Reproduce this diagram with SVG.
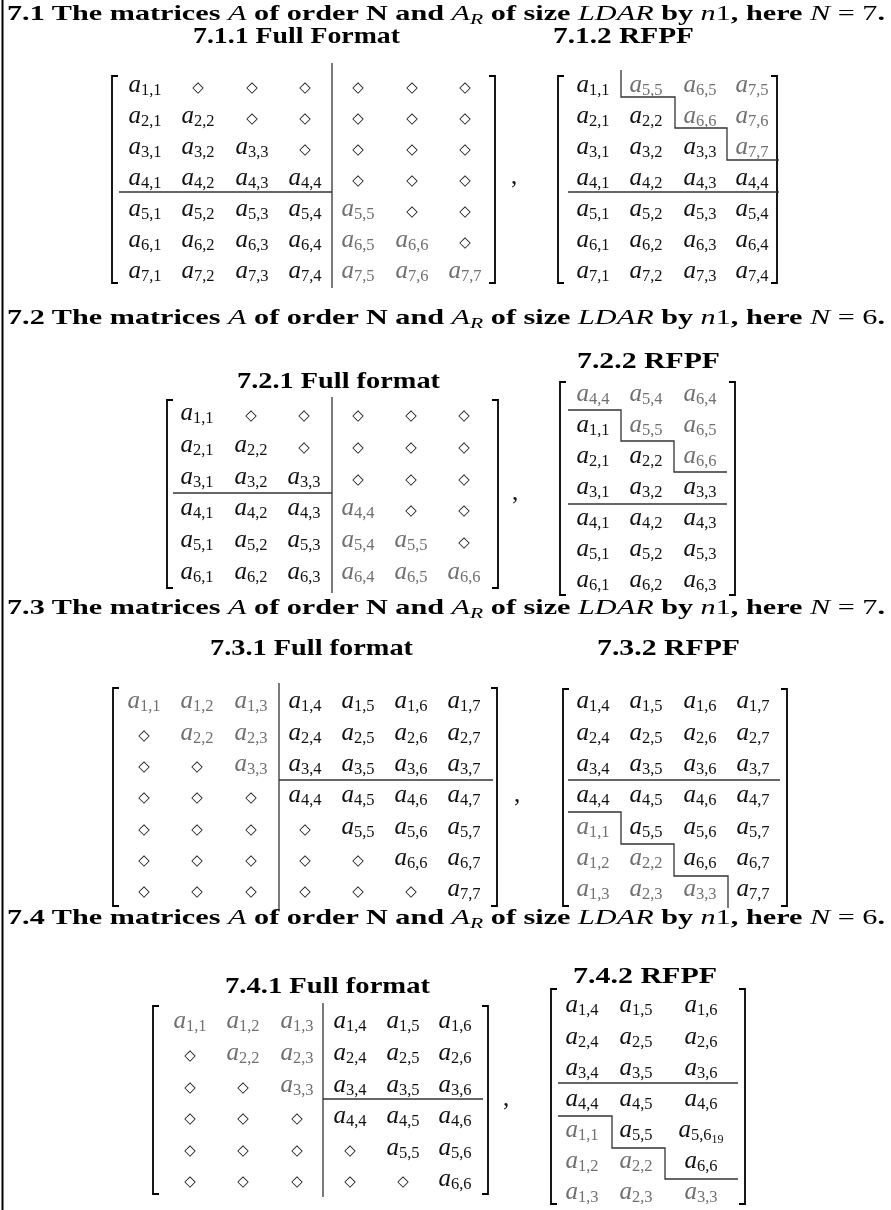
<svg xmlns="http://www.w3.org/2000/svg" width="891" height="1210" viewBox="0 0 891 1210">
<defs>
  <filter id="mono" filterUnits="userSpaceOnUse" x="0" y="0" width="891" height="1210">
    <feColorMatrix type="saturate" values="0"/>
  </filter>
</defs>
<style>
  .t { font-family: "Liberation Serif", serif; font-weight: bold; font-size: 21px; fill: #000; }
  .st { font-family: "Liberation Serif", serif; font-weight: bold; font-size: 23px; fill: #000; }
  .m { font-style: italic; font-weight: normal; }
  .r { font-weight: normal; }
  .sub { font-size: 15px; }
  .e { font-family: "Liberation Serif", serif; font-style: italic; font-size: 25px; fill: #111; text-anchor: middle; }
  .g { fill: #707070; }
  .s { font-style: normal; font-size: 16.5px; }
  .ss { font-style: normal; font-size: 12px; }
  .d { font-family: "DejaVu Sans", sans-serif; font-size: 15px; fill: #111; text-anchor: middle; }
  .c { font-family: "Liberation Serif", serif; font-size: 25px; fill: #111; }
  .br { fill: none; stroke: #000; stroke-width: 1.8; }
  .sep { fill: none; stroke: #333; stroke-width: 1.3; }
  .edge { fill: none; stroke: #000; stroke-width: 2; }
</style>
<rect width="891" height="1210" fill="#fff"/>
<g filter="url(#mono)">

<!-- left margin rule -->
<line class="edge" x1="2.5" y1="0" x2="2.5" y2="1210"/>

<!-- ===================== 7.1 ===================== -->
<g id="sec71">
  <text class="t" x="7" y="20" textLength="878" lengthAdjust="spacingAndGlyphs">7.1 The matrices <tspan class="m">A</tspan> of order N and <tspan class="m">A</tspan><tspan class="m sub" dy="4">R</tspan><tspan dy="-4"> of size </tspan><tspan class="m">LDAR</tspan> by <tspan class="m">n</tspan><tspan class="r">1</tspan>, here <tspan class="m">N</tspan><tspan class="r"> = 7</tspan>.</text>
  <text class="st" x="193" y="43" textLength="207" lengthAdjust="spacingAndGlyphs">7.1.1 Full Format</text>
  <text class="st" x="553" y="43" textLength="141" lengthAdjust="spacingAndGlyphs">7.1.2 RFPF</text>
</g>

<g id="m711">
  <path class="br" d="M118,76 H112 V283 H118 M489,76 H495 V283 H489"/>
  <line class="sep" x1="332" y1="63" x2="332" y2="288"/>
  <line class="sep" x1="119" y1="192" x2="332" y2="192"/>
  <!-- row 1 -->
  <text class="e" x="145" y="92">a<tspan class="s" dy="3">1,1</tspan></text>
  <text class="d" x="198" y="92">◇</text><text class="d" x="252" y="92">◇</text><text class="d" x="305" y="92">◇</text>
  <text class="d" x="358" y="92">◇</text><text class="d" x="412" y="92">◇</text><text class="d" x="465" y="92">◇</text>
  <!-- row 2 -->
  <text class="e" x="145" y="123">a<tspan class="s" dy="3">2,1</tspan></text>
  <text class="e" x="198" y="123">a<tspan class="s" dy="3">2,2</tspan></text>
  <text class="d" x="252" y="123">◇</text><text class="d" x="305" y="123">◇</text>
  <text class="d" x="358" y="123">◇</text><text class="d" x="412" y="123">◇</text><text class="d" x="465" y="123">◇</text>
  <!-- row 3 -->
  <text class="e" x="145" y="154">a<tspan class="s" dy="3">3,1</tspan></text>
  <text class="e" x="198" y="154">a<tspan class="s" dy="3">3,2</tspan></text>
  <text class="e" x="252" y="154">a<tspan class="s" dy="3">3,3</tspan></text>
  <text class="d" x="305" y="154">◇</text>
  <text class="d" x="358" y="154">◇</text><text class="d" x="412" y="154">◇</text><text class="d" x="465" y="154">◇</text>
  <!-- row 4 -->
  <text class="e" x="145" y="185">a<tspan class="s" dy="3">4,1</tspan></text>
  <text class="e" x="198" y="185">a<tspan class="s" dy="3">4,2</tspan></text>
  <text class="e" x="252" y="185">a<tspan class="s" dy="3">4,3</tspan></text>
  <text class="e" x="305" y="185">a<tspan class="s" dy="3">4,4</tspan></text>
  <text class="d" x="358" y="185">◇</text><text class="d" x="412" y="185">◇</text><text class="d" x="465" y="185">◇</text>
  <!-- row 5 -->
  <text class="e" x="145" y="216">a<tspan class="s" dy="3">5,1</tspan></text>
  <text class="e" x="198" y="216">a<tspan class="s" dy="3">5,2</tspan></text>
  <text class="e" x="252" y="216">a<tspan class="s" dy="3">5,3</tspan></text>
  <text class="e" x="305" y="216">a<tspan class="s" dy="3">5,4</tspan></text>
  <text class="e g" x="358" y="216">a<tspan class="s" dy="3">5,5</tspan></text>
  <text class="d" x="412" y="216">◇</text><text class="d" x="465" y="216">◇</text>
  <!-- row 6 -->
  <text class="e" x="145" y="247">a<tspan class="s" dy="3">6,1</tspan></text>
  <text class="e" x="198" y="247">a<tspan class="s" dy="3">6,2</tspan></text>
  <text class="e" x="252" y="247">a<tspan class="s" dy="3">6,3</tspan></text>
  <text class="e" x="305" y="247">a<tspan class="s" dy="3">6,4</tspan></text>
  <text class="e g" x="358" y="247">a<tspan class="s" dy="3">6,5</tspan></text>
  <text class="e g" x="412" y="247">a<tspan class="s" dy="3">6,6</tspan></text>
  <text class="d" x="465" y="247">◇</text>
  <!-- row 7 -->
  <text class="e" x="145" y="278">a<tspan class="s" dy="3">7,1</tspan></text>
  <text class="e" x="198" y="278">a<tspan class="s" dy="3">7,2</tspan></text>
  <text class="e" x="252" y="278">a<tspan class="s" dy="3">7,3</tspan></text>
  <text class="e" x="305" y="278">a<tspan class="s" dy="3">7,4</tspan></text>
  <text class="e g" x="358" y="278">a<tspan class="s" dy="3">7,5</tspan></text>
  <text class="e g" x="412" y="278">a<tspan class="s" dy="3">7,6</tspan></text>
  <text class="e g" x="465" y="278">a<tspan class="s" dy="3">7,7</tspan></text>
  <text class="c" x="511" y="184">,</text>
</g>

<g id="m712">
  <path class="br" d="M564,76 H558 V283 H564 M771,76 H777 V283 H771"/>
  <path class="sep" d="M621,70 V97 H675 V128 H727 V160 H779"/>
  <line class="sep" x1="568" y1="192" x2="779" y2="192"/>
  <text class="e" x="593" y="92">a<tspan class="s" dy="3">1,1</tspan></text>
  <text class="e g" x="646" y="92">a<tspan class="s" dy="3">5,5</tspan></text>
  <text class="e g" x="700" y="92">a<tspan class="s" dy="3">6,5</tspan></text>
  <text class="e g" x="752" y="92">a<tspan class="s" dy="3">7,5</tspan></text>
  <text class="e" x="593" y="123">a<tspan class="s" dy="3">2,1</tspan></text>
  <text class="e" x="646" y="123">a<tspan class="s" dy="3">2,2</tspan></text>
  <text class="e g" x="700" y="123">a<tspan class="s" dy="3">6,6</tspan></text>
  <text class="e g" x="752" y="123">a<tspan class="s" dy="3">7,6</tspan></text>
  <text class="e" x="593" y="154">a<tspan class="s" dy="3">3,1</tspan></text>
  <text class="e" x="646" y="154">a<tspan class="s" dy="3">3,2</tspan></text>
  <text class="e" x="700" y="154">a<tspan class="s" dy="3">3,3</tspan></text>
  <text class="e g" x="752" y="154">a<tspan class="s" dy="3">7,7</tspan></text>
  <text class="e" x="593" y="185">a<tspan class="s" dy="3">4,1</tspan></text>
  <text class="e" x="646" y="185">a<tspan class="s" dy="3">4,2</tspan></text>
  <text class="e" x="700" y="185">a<tspan class="s" dy="3">4,3</tspan></text>
  <text class="e" x="752" y="185">a<tspan class="s" dy="3">4,4</tspan></text>
  <text class="e" x="593" y="216">a<tspan class="s" dy="3">5,1</tspan></text>
  <text class="e" x="646" y="216">a<tspan class="s" dy="3">5,2</tspan></text>
  <text class="e" x="700" y="216">a<tspan class="s" dy="3">5,3</tspan></text>
  <text class="e" x="752" y="216">a<tspan class="s" dy="3">5,4</tspan></text>
  <text class="e" x="593" y="247">a<tspan class="s" dy="3">6,1</tspan></text>
  <text class="e" x="646" y="247">a<tspan class="s" dy="3">6,2</tspan></text>
  <text class="e" x="700" y="247">a<tspan class="s" dy="3">6,3</tspan></text>
  <text class="e" x="752" y="247">a<tspan class="s" dy="3">6,4</tspan></text>
  <text class="e" x="593" y="278">a<tspan class="s" dy="3">7,1</tspan></text>
  <text class="e" x="646" y="278">a<tspan class="s" dy="3">7,2</tspan></text>
  <text class="e" x="700" y="278">a<tspan class="s" dy="3">7,3</tspan></text>
  <text class="e" x="752" y="278">a<tspan class="s" dy="3">7,4</tspan></text>
</g>

<!-- ===================== 7.2 ===================== -->
<g id="sec72">
  <text class="t" x="7" y="324" textLength="878" lengthAdjust="spacingAndGlyphs">7.2 The matrices <tspan class="m">A</tspan> of order N and <tspan class="m">A</tspan><tspan class="m sub" dy="4">R</tspan><tspan dy="-4"> of size </tspan><tspan class="m">LDAR</tspan> by <tspan class="m">n</tspan><tspan class="r">1</tspan>, here <tspan class="m">N</tspan><tspan class="r"> = 6</tspan>.</text>
  <text class="st" x="237" y="388" textLength="203" lengthAdjust="spacingAndGlyphs">7.2.1 Full format</text>
  <text class="st" x="577" y="368" textLength="143" lengthAdjust="spacingAndGlyphs">7.2.2 RFPF</text>
</g>

<g id="m721">
  <path class="br" d="M173,400 H167 V588 H173 M492,400 H498 V588 H492"/>
  <line class="sep" x1="332" y1="397" x2="332" y2="593"/>
  <line class="sep" x1="173" y1="493" x2="332" y2="493"/>
  <text class="e" x="197" y="420">a<tspan class="s" dy="3">1,1</tspan></text>
  <text class="d" x="251" y="420">◇</text><text class="d" x="304" y="420">◇</text>
  <text class="d" x="358" y="420">◇</text><text class="d" x="411" y="420">◇</text><text class="d" x="464" y="420">◇</text>
  <text class="e" x="197" y="452">a<tspan class="s" dy="3">2,1</tspan></text>
  <text class="e" x="251" y="452">a<tspan class="s" dy="3">2,2</tspan></text>
  <text class="d" x="304" y="452">◇</text>
  <text class="d" x="358" y="452">◇</text><text class="d" x="411" y="452">◇</text><text class="d" x="464" y="452">◇</text>
  <text class="e" x="197" y="484">a<tspan class="s" dy="3">3,1</tspan></text>
  <text class="e" x="251" y="484">a<tspan class="s" dy="3">3,2</tspan></text>
  <text class="e" x="304" y="484">a<tspan class="s" dy="3">3,3</tspan></text>
  <text class="d" x="358" y="484">◇</text><text class="d" x="411" y="484">◇</text><text class="d" x="464" y="484">◇</text>
  <text class="e" x="197" y="515">a<tspan class="s" dy="3">4,1</tspan></text>
  <text class="e" x="251" y="515">a<tspan class="s" dy="3">4,2</tspan></text>
  <text class="e" x="304" y="515">a<tspan class="s" dy="3">4,3</tspan></text>
  <text class="e g" x="358" y="515">a<tspan class="s" dy="3">4,4</tspan></text>
  <text class="d" x="411" y="515">◇</text><text class="d" x="464" y="515">◇</text>
  <text class="e" x="197" y="547">a<tspan class="s" dy="3">5,1</tspan></text>
  <text class="e" x="251" y="547">a<tspan class="s" dy="3">5,2</tspan></text>
  <text class="e" x="304" y="547">a<tspan class="s" dy="3">5,3</tspan></text>
  <text class="e g" x="358" y="547">a<tspan class="s" dy="3">5,4</tspan></text>
  <text class="e g" x="411" y="547">a<tspan class="s" dy="3">5,5</tspan></text>
  <text class="d" x="464" y="547">◇</text>
  <text class="e" x="197" y="579">a<tspan class="s" dy="3">6,1</tspan></text>
  <text class="e" x="251" y="579">a<tspan class="s" dy="3">6,2</tspan></text>
  <text class="e" x="304" y="579">a<tspan class="s" dy="3">6,3</tspan></text>
  <text class="e g" x="358" y="579">a<tspan class="s" dy="3">6,4</tspan></text>
  <text class="e g" x="411" y="579">a<tspan class="s" dy="3">6,5</tspan></text>
  <text class="e g" x="464" y="579">a<tspan class="s" dy="3">6,6</tspan></text>
  <text class="c" x="512" y="500">,</text>
</g>

<g id="m722">
  <path class="br" d="M566,382 H560 V595 H566 M729,382 H735 V595 H729"/>
  <path class="sep" d="M568,410 H621 V441 H674 V472 H727"/>
  <line class="sep" x1="568" y1="504" x2="727" y2="504"/>
  <text class="e g" x="593" y="401">a<tspan class="s" dy="3">4,4</tspan></text>
  <text class="e g" x="646" y="401">a<tspan class="s" dy="3">5,4</tspan></text>
  <text class="e g" x="700" y="401">a<tspan class="s" dy="3">6,4</tspan></text>
  <text class="e" x="593" y="432">a<tspan class="s" dy="3">1,1</tspan></text>
  <text class="e g" x="646" y="432">a<tspan class="s" dy="3">5,5</tspan></text>
  <text class="e g" x="700" y="432">a<tspan class="s" dy="3">6,5</tspan></text>
  <text class="e" x="593" y="463">a<tspan class="s" dy="3">2,1</tspan></text>
  <text class="e" x="646" y="463">a<tspan class="s" dy="3">2,2</tspan></text>
  <text class="e g" x="700" y="463">a<tspan class="s" dy="3">6,6</tspan></text>
  <text class="e" x="593" y="494">a<tspan class="s" dy="3">3,1</tspan></text>
  <text class="e" x="646" y="494">a<tspan class="s" dy="3">3,2</tspan></text>
  <text class="e" x="700" y="494">a<tspan class="s" dy="3">3,3</tspan></text>
  <text class="e" x="593" y="525">a<tspan class="s" dy="3">4,1</tspan></text>
  <text class="e" x="646" y="525">a<tspan class="s" dy="3">4,2</tspan></text>
  <text class="e" x="700" y="525">a<tspan class="s" dy="3">4,3</tspan></text>
  <text class="e" x="593" y="556">a<tspan class="s" dy="3">5,1</tspan></text>
  <text class="e" x="646" y="556">a<tspan class="s" dy="3">5,2</tspan></text>
  <text class="e" x="700" y="556">a<tspan class="s" dy="3">5,3</tspan></text>
  <text class="e" x="593" y="587">a<tspan class="s" dy="3">6,1</tspan></text>
  <text class="e" x="646" y="587">a<tspan class="s" dy="3">6,2</tspan></text>
  <text class="e" x="700" y="587">a<tspan class="s" dy="3">6,3</tspan></text>
</g>

<!-- ===================== 7.3 ===================== -->
<g id="sec73">
  <text class="t" x="7" y="614" textLength="878" lengthAdjust="spacingAndGlyphs">7.3 The matrices <tspan class="m">A</tspan> of order N and <tspan class="m">A</tspan><tspan class="m sub" dy="4">R</tspan><tspan dy="-4"> of size </tspan><tspan class="m">LDAR</tspan> by <tspan class="m">n</tspan><tspan class="r">1</tspan>, here <tspan class="m">N</tspan><tspan class="r"> = 7</tspan>.</text>
  <text class="st" x="210" y="655" textLength="203" lengthAdjust="spacingAndGlyphs">7.3.1 Full format</text>
  <text class="st" x="597" y="655" textLength="143" lengthAdjust="spacingAndGlyphs">7.3.2 RFPF</text>
</g>

<g id="m731">
  <path class="br" d="M119,688 H113 V906 H119 M491,688 H497 V906 H491"/>
  <line class="sep" x1="279" y1="683" x2="279" y2="910"/>
  <line class="sep" x1="279" y1="780" x2="493" y2="780"/>
  <text class="e g" x="144" y="708">a<tspan class="s" dy="3">1,1</tspan></text>
  <text class="e g" x="197" y="708">a<tspan class="s" dy="3">1,2</tspan></text>
  <text class="e g" x="251" y="708">a<tspan class="s" dy="3">1,3</tspan></text>
  <text class="e" x="305" y="708">a<tspan class="s" dy="3">1,4</tspan></text>
  <text class="e" x="358" y="708">a<tspan class="s" dy="3">1,5</tspan></text>
  <text class="e" x="411" y="708">a<tspan class="s" dy="3">1,6</tspan></text>
  <text class="e" x="464" y="708">a<tspan class="s" dy="3">1,7</tspan></text>
  <text class="d" x="144" y="740">◇</text>
  <text class="e g" x="197" y="740">a<tspan class="s" dy="3">2,2</tspan></text>
  <text class="e g" x="251" y="740">a<tspan class="s" dy="3">2,3</tspan></text>
  <text class="e" x="305" y="740">a<tspan class="s" dy="3">2,4</tspan></text>
  <text class="e" x="358" y="740">a<tspan class="s" dy="3">2,5</tspan></text>
  <text class="e" x="411" y="740">a<tspan class="s" dy="3">2,6</tspan></text>
  <text class="e" x="464" y="740">a<tspan class="s" dy="3">2,7</tspan></text>
  <text class="d" x="144" y="771">◇</text><text class="d" x="197" y="771">◇</text>
  <text class="e g" x="251" y="771">a<tspan class="s" dy="3">3,3</tspan></text>
  <text class="e" x="305" y="771">a<tspan class="s" dy="3">3,4</tspan></text>
  <text class="e" x="358" y="771">a<tspan class="s" dy="3">3,5</tspan></text>
  <text class="e" x="411" y="771">a<tspan class="s" dy="3">3,6</tspan></text>
  <text class="e" x="464" y="771">a<tspan class="s" dy="3">3,7</tspan></text>
  <text class="d" x="144" y="802">◇</text><text class="d" x="197" y="802">◇</text><text class="d" x="251" y="802">◇</text>
  <text class="e" x="305" y="802">a<tspan class="s" dy="3">4,4</tspan></text>
  <text class="e" x="358" y="802">a<tspan class="s" dy="3">4,5</tspan></text>
  <text class="e" x="411" y="802">a<tspan class="s" dy="3">4,6</tspan></text>
  <text class="e" x="464" y="802">a<tspan class="s" dy="3">4,7</tspan></text>
  <text class="d" x="144" y="834">◇</text><text class="d" x="197" y="834">◇</text><text class="d" x="251" y="834">◇</text><text class="d" x="305" y="834">◇</text>
  <text class="e" x="358" y="834">a<tspan class="s" dy="3">5,5</tspan></text>
  <text class="e" x="411" y="834">a<tspan class="s" dy="3">5,6</tspan></text>
  <text class="e" x="464" y="834">a<tspan class="s" dy="3">5,7</tspan></text>
  <text class="d" x="144" y="865">◇</text><text class="d" x="197" y="865">◇</text><text class="d" x="251" y="865">◇</text><text class="d" x="305" y="865">◇</text><text class="d" x="358" y="865">◇</text>
  <text class="e" x="411" y="865">a<tspan class="s" dy="3">6,6</tspan></text>
  <text class="e" x="464" y="865">a<tspan class="s" dy="3">6,7</tspan></text>
  <text class="d" x="144" y="896">◇</text><text class="d" x="197" y="896">◇</text><text class="d" x="251" y="896">◇</text><text class="d" x="305" y="896">◇</text><text class="d" x="358" y="896">◇</text><text class="d" x="411" y="896">◇</text>
  <text class="e" x="464" y="896">a<tspan class="s" dy="3">7,7</tspan></text>
  <text class="c" x="514" y="802">,</text>
</g>

<g id="m732">
  <path class="br" d="M569,689 H563 V906 H569 M781,689 H787 V906 H781"/>
  <line class="sep" x1="568" y1="780" x2="780" y2="780"/>
  <path class="sep" d="M568,812 H621 V844 H674 V876 H728 V908"/>
  <text class="e" x="593" y="708">a<tspan class="s" dy="3">1,4</tspan></text>
  <text class="e" x="646" y="708">a<tspan class="s" dy="3">1,5</tspan></text>
  <text class="e" x="700" y="708">a<tspan class="s" dy="3">1,6</tspan></text>
  <text class="e" x="753" y="708">a<tspan class="s" dy="3">1,7</tspan></text>
  <text class="e" x="593" y="740">a<tspan class="s" dy="3">2,4</tspan></text>
  <text class="e" x="646" y="740">a<tspan class="s" dy="3">2,5</tspan></text>
  <text class="e" x="700" y="740">a<tspan class="s" dy="3">2,6</tspan></text>
  <text class="e" x="753" y="740">a<tspan class="s" dy="3">2,7</tspan></text>
  <text class="e" x="593" y="771">a<tspan class="s" dy="3">3,4</tspan></text>
  <text class="e" x="646" y="771">a<tspan class="s" dy="3">3,5</tspan></text>
  <text class="e" x="700" y="771">a<tspan class="s" dy="3">3,6</tspan></text>
  <text class="e" x="753" y="771">a<tspan class="s" dy="3">3,7</tspan></text>
  <text class="e" x="593" y="802">a<tspan class="s" dy="3">4,4</tspan></text>
  <text class="e" x="646" y="802">a<tspan class="s" dy="3">4,5</tspan></text>
  <text class="e" x="700" y="802">a<tspan class="s" dy="3">4,6</tspan></text>
  <text class="e" x="753" y="802">a<tspan class="s" dy="3">4,7</tspan></text>
  <text class="e g" x="593" y="834">a<tspan class="s" dy="3">1,1</tspan></text>
  <text class="e" x="646" y="834">a<tspan class="s" dy="3">5,5</tspan></text>
  <text class="e" x="700" y="834">a<tspan class="s" dy="3">5,6</tspan></text>
  <text class="e" x="753" y="834">a<tspan class="s" dy="3">5,7</tspan></text>
  <text class="e g" x="593" y="865">a<tspan class="s" dy="3">1,2</tspan></text>
  <text class="e g" x="646" y="865">a<tspan class="s" dy="3">2,2</tspan></text>
  <text class="e" x="700" y="865">a<tspan class="s" dy="3">6,6</tspan></text>
  <text class="e" x="753" y="865">a<tspan class="s" dy="3">6,7</tspan></text>
  <text class="e g" x="593" y="896">a<tspan class="s" dy="3">1,3</tspan></text>
  <text class="e g" x="646" y="896">a<tspan class="s" dy="3">2,3</tspan></text>
  <text class="e g" x="700" y="896">a<tspan class="s" dy="3">3,3</tspan></text>
  <text class="e" x="753" y="896">a<tspan class="s" dy="3">7,7</tspan></text>
</g>

<!-- ===================== 7.4 ===================== -->
<g id="sec74">
  <text class="t" x="7" y="924" textLength="878" lengthAdjust="spacingAndGlyphs">7.4 The matrices <tspan class="m">A</tspan> of order N and <tspan class="m">A</tspan><tspan class="m sub" dy="4">R</tspan><tspan dy="-4"> of size </tspan><tspan class="m">LDAR</tspan> by <tspan class="m">n</tspan><tspan class="r">1</tspan>, here <tspan class="m">N</tspan><tspan class="r"> = 6</tspan>.</text>
  <text class="st" x="225" y="993" textLength="205" lengthAdjust="spacingAndGlyphs">7.4.1 Full format</text>
  <text class="st" x="573" y="983" textLength="144" lengthAdjust="spacingAndGlyphs">7.4.2 RFPF</text>
</g>

<g id="m741">
  <path class="br" d="M159,1006 H153 V1194 H159 M482,1006 H488 V1194 H482"/>
  <line class="sep" x1="323" y1="1003" x2="323" y2="1197"/>
  <line class="sep" x1="323" y1="1099" x2="483" y2="1099"/>
  <text class="e g" x="190" y="1028">a<tspan class="s" dy="3">1,1</tspan></text>
  <text class="e g" x="243" y="1028">a<tspan class="s" dy="3">1,2</tspan></text>
  <text class="e g" x="297" y="1028">a<tspan class="s" dy="3">1,3</tspan></text>
  <text class="e" x="350" y="1028">a<tspan class="s" dy="3">1,4</tspan></text>
  <text class="e" x="403" y="1028">a<tspan class="s" dy="3">1,5</tspan></text>
  <text class="e" x="455" y="1028">a<tspan class="s" dy="3">1,6</tspan></text>
  <text class="d" x="190" y="1060">◇</text>
  <text class="e g" x="243" y="1060">a<tspan class="s" dy="3">2,2</tspan></text>
  <text class="e g" x="297" y="1060">a<tspan class="s" dy="3">2,3</tspan></text>
  <text class="e" x="350" y="1060">a<tspan class="s" dy="3">2,4</tspan></text>
  <text class="e" x="403" y="1060">a<tspan class="s" dy="3">2,5</tspan></text>
  <text class="e" x="455" y="1060">a<tspan class="s" dy="3">2,6</tspan></text>
  <text class="d" x="190" y="1092">◇</text><text class="d" x="243" y="1092">◇</text>
  <text class="e g" x="297" y="1092">a<tspan class="s" dy="3">3,3</tspan></text>
  <text class="e" x="350" y="1092">a<tspan class="s" dy="3">3,4</tspan></text>
  <text class="e" x="403" y="1092">a<tspan class="s" dy="3">3,5</tspan></text>
  <text class="e" x="455" y="1092">a<tspan class="s" dy="3">3,6</tspan></text>
  <text class="d" x="190" y="1123">◇</text><text class="d" x="243" y="1123">◇</text><text class="d" x="297" y="1123">◇</text>
  <text class="e" x="350" y="1123">a<tspan class="s" dy="3">4,4</tspan></text>
  <text class="e" x="403" y="1123">a<tspan class="s" dy="3">4,5</tspan></text>
  <text class="e" x="455" y="1123">a<tspan class="s" dy="3">4,6</tspan></text>
  <text class="d" x="190" y="1155">◇</text><text class="d" x="243" y="1155">◇</text><text class="d" x="297" y="1155">◇</text><text class="d" x="350" y="1155">◇</text>
  <text class="e" x="403" y="1155">a<tspan class="s" dy="3">5,5</tspan></text>
  <text class="e" x="455" y="1155">a<tspan class="s" dy="3">5,6</tspan></text>
  <text class="d" x="190" y="1186">◇</text><text class="d" x="243" y="1186">◇</text><text class="d" x="297" y="1186">◇</text><text class="d" x="350" y="1186">◇</text><text class="d" x="403" y="1186">◇</text>
  <text class="e" x="455" y="1186">a<tspan class="s" dy="3">6,6</tspan></text>
  <text class="c" x="503" y="1106">,</text>
</g>

<g id="m742">
  <path class="br" d="M557,989 H551 V1204 H557 M739,989 H745 V1204 H739"/>
  <line class="sep" x1="558" y1="1083" x2="738" y2="1083"/>
  <path class="sep" d="M558,1116 H612 V1148 H665 V1179 H738"/>
  <text class="e" x="582" y="1012">a<tspan class="s" dy="3">1,4</tspan></text>
  <text class="e" x="636" y="1012">a<tspan class="s" dy="3">1,5</tspan></text>
  <text class="e" x="701" y="1012">a<tspan class="s" dy="3">1,6</tspan></text>
  <text class="e" x="582" y="1044">a<tspan class="s" dy="3">2,4</tspan></text>
  <text class="e" x="636" y="1044">a<tspan class="s" dy="3">2,5</tspan></text>
  <text class="e" x="701" y="1044">a<tspan class="s" dy="3">2,6</tspan></text>
  <text class="e" x="582" y="1075">a<tspan class="s" dy="3">3,4</tspan></text>
  <text class="e" x="636" y="1075">a<tspan class="s" dy="3">3,5</tspan></text>
  <text class="e" x="701" y="1075">a<tspan class="s" dy="3">3,6</tspan></text>
  <text class="e" x="582" y="1106">a<tspan class="s" dy="3">4,4</tspan></text>
  <text class="e" x="636" y="1106">a<tspan class="s" dy="3">4,5</tspan></text>
  <text class="e" x="701" y="1106">a<tspan class="s" dy="3">4,6</tspan></text>
  <text class="e g" x="582" y="1137">a<tspan class="s" dy="3">1,1</tspan></text>
  <text class="e" x="636" y="1137">a<tspan class="s" dy="3">5,5</tspan></text>
  <text class="e" x="701" y="1137">a<tspan class="s" dy="3">5,6</tspan><tspan class="ss" dy="3">19</tspan></text>
  <text class="e g" x="582" y="1168">a<tspan class="s" dy="3">1,2</tspan></text>
  <text class="e g" x="636" y="1168">a<tspan class="s" dy="3">2,2</tspan></text>
  <text class="e" x="701" y="1168">a<tspan class="s" dy="3">6,6</tspan></text>
  <text class="e g" x="582" y="1199">a<tspan class="s" dy="3">1,3</tspan></text>
  <text class="e g" x="636" y="1199">a<tspan class="s" dy="3">2,3</tspan></text>
  <text class="e g" x="701" y="1199">a<tspan class="s" dy="3">3,3</tspan></text>
</g>

</g>
</svg>
